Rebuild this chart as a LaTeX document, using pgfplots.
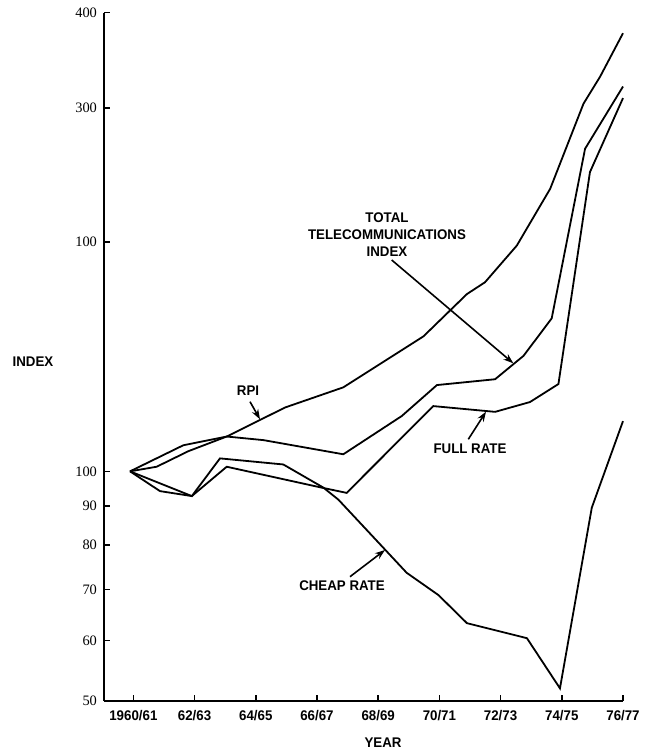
\documentclass[border=0pt]{standalone}
\usepackage{fontspec}
\setmainfont{Liberation Serif}
\newfontfamily\lab[FakeStretch=0.95]{Liberation Sans}
\usepackage{pgfplots}
\pgfplotsset{compat=1.18}
\usepackage{pgfplotstable}
\usetikzlibrary{arrows.meta}

\pgfplotstableread{
x y
1959.89 100
1960.76 101.4
1961.80 106.3
1963.05 111.1
1964.96 121.3
1966.86 128.9
1969.48 150.4
1970.90 170.9
1971.49 177.1
1972.53 197.9
1973.62 234.9
1974.71 303.9
1975.25 329.6
1976.00 376
}\rpi
\pgfplotstableread{
x y
1959.89 100
1961.63 108.2
1963.05 111.1
1964.25 109.9
1966.86 105.3
1968.77 118.2
1969.92 129.8
1971.82 132.1
1972.75 141.8
1973.67 158.8
1974.76 265.1
1976.00 320
}\total
\pgfplotstableread{
x y
1959.89 100
1961.91 92.8
1963.05 101.4
1966.10 95.3
1966.97 93.7
1969.80 121.8
1971.82 119.7
1972.96 123.3
1973.89 130.2
1974.92 247.1
1976.00 309
}\full
\pgfplotstableread{
x y
1959.89 100
1960.87 94.2
1961.91 92.8
1962.83 104.0
1964.90 102.1
1966.21 95.2
1966.70 91.8
1968.23 78.9
1968.93 73.6
1969.97 68.8
1970.90 63.2
1972.86 60.4
1973.94 51.9
1974.98 89.6
1976.00 116.4
}\cheap

\begin{document}
\begin{tikzpicture}
\useasboundingbox (0,0) rectangle (325pt,375pt);
\begin{axis}[
  at={(52pt,24.65pt)}, anchor=south west,
  scale only axis, width=259.5pt, height=344pt,
  ymode=log, ymin=50, ymax=400, xmin=1959.04, xmax=1976,
  axis x line=bottom, axis y line=left,
  axis line style={-, line width=1pt},
  tick align=inside,
  tick style={black, line width=0.8pt},
  major tick length=3pt,
  yminorticks=false, xminorticks=false,
  xtick={1960,1962,1964,1966,1968,1970,1972,1974,1976},
  xticklabels={1960/61,62/63,64/65,66/67,68/69,70/71,72/73,74/75,76/77},
  ytick={50,60,70,80,90,100,200,300,400},
  yticklabels={50,60,70,80,90,100,100,300,400},
  xticklabel style={font=\lab\bfseries\fontsize{7}{8}\selectfont, yshift=-1.2pt},
  yticklabel style={font=\fontsize{7.2}{8}\selectfont},
  clip=false,
]
\addplot[black, line width=0.9pt] table {\rpi};
\addplot[black, line width=0.9pt] table {\total};
\addplot[black, line width=0.9pt] table {\full};
\addplot[black, line width=0.9pt] table {\cheap};
\end{axis}
\begin{scope}[x=0.5pt, y=-0.5pt, shift={(0,375pt)}, font=\lab\bfseries\fontsize{7}{8}\selectfont]
\node at (33,362) {INDEX};
\node at (383,743) {YEAR};
\node at (248,391) {RPI};
\node at (387,218) {TOTAL};
\node at (387,235) {TELECOMMUNICATIONS};
\node at (387,251.5) {INDEX};
\node at (470,449) {FULL RATE};
\node at (342,585.5) {CHEAP RATE};
\draw[line width=0.8pt, -{Stealth[length=5pt,width=3.5pt]}] (250,401.7) -- (260,419.3);
\draw[line width=0.8pt, -{Stealth[length=5pt,width=3.5pt]}] (391.7,260) -- (513.3,363.3);
\draw[line width=0.8pt, -{Stealth[length=5pt,width=3.5pt]}] (468.3,439.3) -- (486,411.7);
\draw[line width=0.8pt, -{Stealth[length=5pt,width=3.5pt]}] (350,576.7) -- (385,550);
\end{scope}
\end{tikzpicture}
\end{document}
